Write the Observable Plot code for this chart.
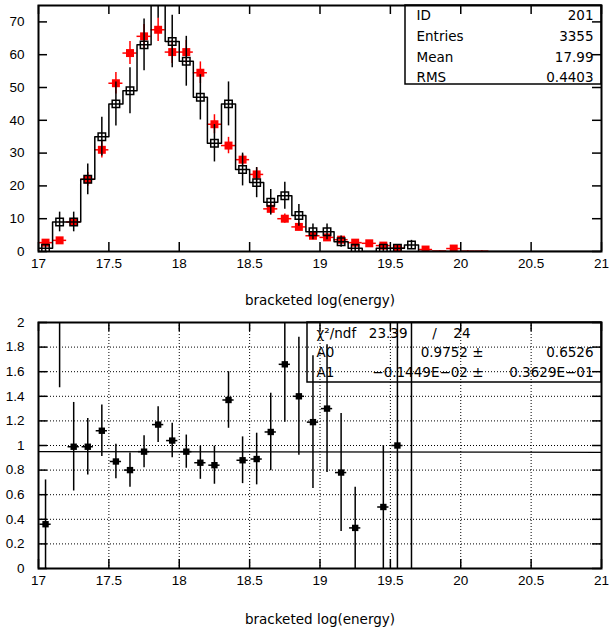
<!DOCTYPE html>
<html><head><meta charset="utf-8">
<script src="https://cdn.jsdelivr.net/npm/d3@7"></script>
<script src="https://cdn.jsdelivr.net/npm/@observablehq/plot@0.6"></script>
<style>
body{margin:0;background:#fff;}
#chart svg{display:block;}
</style></head><body><div id="chart"></div>
<script>
// ---------- data ----------
const binCenters = [17.05,17.15,17.25,17.35,17.45,17.55,17.65,17.75,17.85,17.95,18.05,18.15,18.25,18.35,18.45,18.55,18.65,18.75,18.85,18.95,19.05,19.15,19.25,19.35,19.45,19.55,19.65];
const histValues = [1,9,9,22,35,45,49,63,80,64,58,47,33,45,25,21,15,17,11,6,6,3,1,0,1,1,2];
const histErrors = [1,3,3,4.7,5.9,6.7,7,7.9,8.9,8,7.6,6.9,5.7,6.7,5,4.6,3.9,4.1,3.3,2.4,2.4,1.7,1,0,1,1,1.4];

const refCenters = [17.05,17.15,17.25,17.35,17.45,17.55,17.65,17.75,17.85,17.95,18.05,18.15,18.25,18.35,18.45,18.55,18.65,18.75,18.85,18.95,19.05,19.15,19.25,19.35,19.45,19.55,19.75,19.85,19.95,20.05,20.15];
const refValues = [2.7,3.4,9,22,31,51.3,60.5,65.6,67.6,60.8,60.8,54.5,38.8,32.3,28,23.5,13,10,7.5,4.8,4.3,3.6,2.7,2.5,1.8,1.0,0.6,0.15,0.9,0.1,0.1];
const refErrors = [0.7,0.8,1.3,2.1,2.5,3.3,3.5,3.6,3.6,3.5,3.5,3.3,2.9,2.5,1.6,2.0,1.6,1.4,1.2,1.0,1.0,0.8,0.7,0.7,0.6,0.5,0.4,0.1,0.4,0.1,0.1];

const ratioCenters = [17.05,17.15,17.25,17.35,17.45,17.55,17.65,17.75,17.85,17.95,18.05,18.15,18.25,18.35,18.45,18.55,18.65,18.75,18.85,18.95,19.05,19.15,19.25,19.45,19.55,19.65];
const ratioValues = [0.36,2.7,0.99,0.99,1.12,0.87,0.80,0.95,1.17,1.04,0.95,0.86,0.84,1.37,0.88,0.89,1.11,1.66,1.40,1.19,1.30,0.78,0.33,0.50,1.00,3.5];
const ratioErrors = [0.36,1.23,0.36,0.23,0.21,0.14,0.14,0.13,0.145,0.14,0.135,0.135,0.155,0.23,0.19,0.21,0.315,0.47,0.48,0.54,0.52,0.48,0.33,0.5,1.1,3.6];

const statLabels = ["ID","Entries","Mean","RMS"];
const statValues = ["201","3355","17.99","0.4403"];

const fitLabels = ["χ²/ndf","A0","A1"];
const fitChi2 = "23.39", fitNdf = "24";
const fitParText = ["0.9752 ±","−0.1449E−02 ±"];
const fitErrText = ["0.6526","0.3629E−01"];
const fitA0 = 0.9752, fitA1 = -0.1449e-2;

const xTicks = [17,17.5,18,18.5,19,19.5,20,20.5,21];
const topYTicks = [0,10,20,30,40,50,60,70];
const botYTicks = [0,0.2,0.4,0.6,0.8,1,1.2,1.4,1.6,1.8,2];
const xTitle = "bracketed log(energy)";

// ---------- layout ----------
const W = 611, ML = 38, MR = 10, FW = W - ML - MR;
const topH = 311, topMT = 5, topMB = 60;
const botH = 322, botMT = 11, botMB = 65;
const TL = 9, HALF = 0.05;
const tickFont = "Liberation Sans, Arial, sans-serif";
const textFont = "DejaVu Sans, sans-serif";
const SW = 1.5;

function innerTicks(fh, yTicks) {
  return [
    Plot.tickX(xTicks, {x: d => d, insetTop: fh - TL, stroke: "black", strokeWidth: SW}),
    Plot.tickX(xTicks, {x: d => d, insetBottom: fh - TL, stroke: "black", strokeWidth: SW}),
    Plot.tickY(yTicks, {y: d => d, insetRight: FW - TL, stroke: "black", strokeWidth: SW}),
    Plot.tickY(yTicks, {y: d => d, insetLeft: FW - TL, stroke: "black", strokeWidth: SW})
  ];
}
function boxMark(x0, y0, w, h, fill) {
  return () => {
    const r = document.createElementNS("http://www.w3.org/2000/svg", "rect");
    r.setAttribute("x", x0); r.setAttribute("y", y0);
    r.setAttribute("width", w); r.setAttribute("height", h);
    r.setAttribute("fill", fill); r.setAttribute("stroke", "black");
    r.setAttribute("stroke-width", SW);
    return r;
  };
}
function label(txt, dx, dy, anchor) {
  return Plot.text([txt], {text: d => d, frameAnchor: "top-right", lineAnchor: "middle", dx, dy, textAnchor: anchor,
    fontFamily: textFont, fontSize: 13.5, fill: "black"});
}

const hist = binCenters.map((x, i) => ({x, v: histValues[i], e: histErrors[i]}));
const ref = refCenters.map((x, i) => ({x, v: refValues[i], e: refErrors[i]}));
const ratio = ratioCenters.map((x, i) => ({x, v: ratioValues[i], e: ratioErrors[i]}));
const step = hist.map(d => ({x: d.x - HALF, v: d.v}))
  .concat([{x: hist[hist.length - 1].x + HALF, v: 0}, {x: xTicks[xTicks.length - 1], v: 0}]);

const topFH = topH - topMT - topMB;
const topPlot = Plot.plot({
  width: W, height: topH, marginLeft: ML, marginRight: MR, marginTop: topMT, marginBottom: topMB,
  style: {fontFamily: tickFont, fontSize: "13.5px", color: "black", background: "white"},
  x: {domain: [17, 21], ticks: xTicks, tickSize: 0, tickPadding: 7, label: null, tickFormat: d => String(d)},
  y: {domain: [0, 75], ticks: topYTicks, tickSize: 0, tickPadding: 14, label: null},
  marks: [
    Plot.ruleX(ref, {x: "x", y1: d => d.v - d.e, y2: d => d.v + d.e, stroke: "red", strokeWidth: SW, clip: true}),
    Plot.ruleY(ref, {y: "v", x1: d => d.x - HALF, x2: d => d.x + HALF, stroke: "red", strokeWidth: SW, clip: true}),
    Plot.dot(ref.filter(d => d.v >= 0.3), {x: "x", y: "v", symbol: "square", r: 4.5, fill: "red", stroke: "none", clip: true}),
    Plot.line(step, {x: "x", y: "v", curve: "step-after", stroke: "black", strokeWidth: SW, clip: true}),
    Plot.ruleX(hist.filter(d => d.e > 0), {x: "x", y1: d => d.v - d.e, y2: d => d.v + d.e, stroke: "black", strokeWidth: SW, clip: true}),
    Plot.dot(hist.filter(d => d.v > 0), {x: "x", y: "v", symbol: "square", r: 4.2, fill: "none", stroke: "black", strokeWidth: SW, clip: true}),
    boxMark(W - MR - 196, topMT, 196, 79, "white"),
    ...statLabels.map((s, i) => label(s, -185, [10, 31, 52, 72][i], "start")),
    ...statValues.map((s, i) => label(s, -8, [10, 31, 52, 72][i], "end")),
    Plot.frame({stroke: "black", strokeWidth: 2}),
    ...innerTicks(topFH, topYTicks),
    Plot.text([xTitle], {text: d => d, frameAnchor: "bottom", lineAnchor: "middle", dy: 49, fontFamily: textFont, fontSize: 13.5, fill: "black"})
  ]
});

const botFH = botH - botMT - botMB;
const fitLine = [xTicks[0], xTicks[xTicks.length - 1]].map(x => ({x, y: fitA0 + fitA1 * x}));
const rowDy = [11, 30, 50];
const botPlot = Plot.plot({
  width: W, height: botH, marginLeft: ML, marginRight: MR, marginTop: botMT, marginBottom: botMB,
  style: {fontFamily: tickFont, fontSize: "13.5px", color: "black", background: "white"},
  x: {domain: [17, 21], ticks: xTicks, tickSize: 0, tickPadding: 7, label: null, tickFormat: d => String(d)},
  y: {domain: [0, 2], ticks: botYTicks, tickSize: 0, tickPadding: 14, label: null, tickFormat: d => String(d)},
  marks: [
    Plot.ruleX(xTicks.slice(1, -1), {x: d => d, stroke: "black", strokeWidth: 1, strokeDasharray: "1,2"}),
    Plot.ruleY(botYTicks.slice(1, -1), {y: d => d, stroke: "black", strokeWidth: 1, strokeDasharray: "1,2"}),
    Plot.line(fitLine, {x: "x", y: "y", stroke: "black", strokeWidth: 1.2, clip: true}),
    Plot.ruleX(ratio, {x: "x", y1: d => d.v - d.e, y2: d => d.v + d.e, stroke: "black", strokeWidth: SW, clip: true}),
    Plot.ruleY(ratio, {y: "v", x1: d => d.x - 0.04, x2: d => d.x + 0.04, stroke: "black", strokeWidth: SW, clip: true}),
    Plot.dot(ratio, {x: "x", y: "v", symbol: "square", r: 3.6, fill: "black", stroke: "none", clip: true}),
    boxMark(307, botMT, W - MR - 307, 60, "none"),
    label(fitLabels[0], -285, rowDy[0], "start"),
    label(fitChi2, -194, rowDy[0], "end"),
    label("/", -167, rowDy[0], "middle"),
    label(fitNdf, -131, rowDy[0], "end"),
    label(fitLabels[1], -285, rowDy[1], "start"),
    label(fitParText[0], -118, rowDy[1], "end"),
    label(fitErrText[0], -8, rowDy[1], "end"),
    label(fitLabels[2], -285, rowDy[2], "start"),
    label(fitParText[1], -118, rowDy[2], "end"),
    label(fitErrText[1], -8, rowDy[2], "end"),
    Plot.frame({stroke: "black", strokeWidth: 2}),
    ...innerTicks(botFH, botYTicks),
    Plot.text([xTitle], {text: d => d, frameAnchor: "bottom", lineAnchor: "middle", dy: 51, fontFamily: textFont, fontSize: 13.5, fill: "black"})
  ]
});

document.getElementById("chart").append(topPlot, botPlot);
</script>
</body></html>
